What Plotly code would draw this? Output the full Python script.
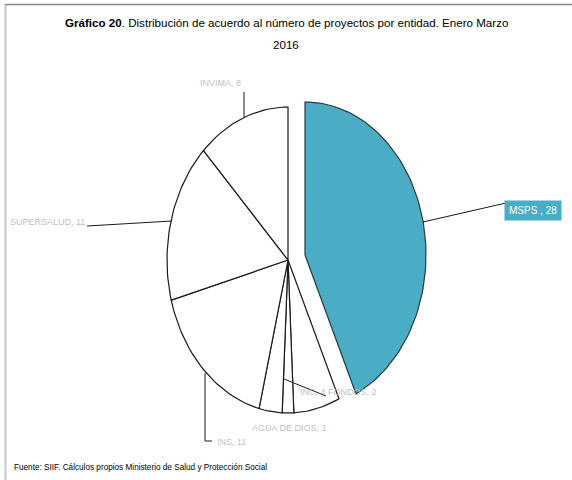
import numpy as np
import plotly.graph_objects as go

# ---- data ----
entities = ["MSPS", "INC", "AGUA DE DIOS", "FONDOS", "INS", "SUPERSALUD", "INVIMA"]
projects = [28, 4, 1, 2, 11, 11, 8]
label_texts = ["MSPS , 28", "INC, 4", "AGUA DE DIOS, 1", "FONDOS, 2", "INS, 11", "SUPERSALUD, 11", "INVIMA, 8"]

title_bold = "Gráfico 20"
title_rest = ". Distribución de acuerdo al número de proyectos por entidad. Enero Marzo"
title_line2 = "2016"
source_text = "Fuente: SIIF. Cálculos propios Ministerio de Salud y Protección Social"

# ---- style / layout ----
W, H = 572, 480
CX, CY = 288, 260
RX, RY = 121, 153
BLUE = "#4BACC6"
LABEL_GRAY = "#BFBFBF"
FONT = "Liberation Sans Narrow, Arial Narrow, Liberation Sans, sans-serif"
pulls = {"MSPS": (17, -5)}

fig = go.Figure()

total = float(sum(projects))
cum = 0.0
for name, v in zip(entities, projects):
    a0 = cum / total * 2 * np.pi
    cum += v
    a1 = cum / total * 2 * np.pi
    n = max(4, int(200 * v / total) + 4)
    th = np.linspace(a0, a1, n)
    dx, dy = pulls.get(name, (0, 0))
    cx, cy = CX + dx, CY + dy
    xs = [cx] + list(cx + RX * np.sin(th)) + [cx]
    ys = [cy] + list(cy - RY * np.cos(th)) + [cy]
    fill = BLUE if name == "MSPS" else "white"
    fig.add_trace(go.Scatter(x=xs, y=ys, mode="lines", fill="toself",
                             fillcolor=fill,
                             line=dict(color="#1a1a1a" if name != "MSPS" else "#2b3a40", width=1.2),
                             hoverinfo="text", text=f"{name}: {v}", showlegend=False))

# leader lines
leaders = [
    ([244, 244], [92, 117]),            # INVIMA
    ([87, 172], [226, 221]),            # SUPERSALUD
    ([423, 506], [222, 203]),           # MSPS
    ([284, 326], [379, 396]),           # INC / FONDOS
    ([205, 205, 212], [373, 441, 441]), # INS
]
for xs, ys in leaders:
    fig.add_trace(go.Scatter(x=xs, y=ys, mode="lines", line=dict(color="#1a1a1a", width=1),
                             hoverinfo="skip", showlegend=False))

lab = dict(zip(entities, label_texts))
annots = []
def add_label(text, x, y, xanchor="left", color=LABEL_GRAY, bg=None, size=9):
    d = dict(x=x, y=y, xref="x", yref="y", text=text, showarrow=False,
             xanchor=xanchor, yanchor="middle", font=dict(family=FONT, size=size, color=color))
    if bg:
        d.update(bgcolor=bg, borderpad=4)
    annots.append(d)

add_label(lab["INVIMA"], 198, 83)
add_label(lab["SUPERSALUD"], 8, 222)
add_label(lab["MSPS"], 533, 210, xanchor="center", color="white", bg=BLUE, size=10)
add_label(lab["INC"] + " " + lab["FONDOS"], 298, 392)
add_label(lab["AGUA DE DIOS"], 250, 428)
add_label(lab["INS"], 215, 442)

# title
annots.append(dict(x=286, y=22, xref="x", yref="y", showarrow=False, xanchor="center", yanchor="middle",
                   text=f"<b>{title_bold}</b>{title_rest}", font=dict(family=FONT, size=11.6, color="black")))
annots.append(dict(x=286, y=44, xref="x", yref="y", showarrow=False, xanchor="center", yanchor="middle",
                   text=title_line2, font=dict(family=FONT, size=11.6, color="black")))
annots.append(dict(x=12, y=467, xref="x", yref="y", showarrow=False, xanchor="left", yanchor="middle",
                   text=source_text, font=dict(family=FONT, size=8.2, color="black")))

fig.update_layout(
    width=W, height=H,
    margin=dict(l=0, r=0, t=0, b=0),
    paper_bgcolor="white", plot_bgcolor="white",
    xaxis=dict(range=[0, W], visible=False, fixedrange=True),
    yaxis=dict(range=[H, 0], visible=False, fixedrange=True),
    annotations=annots,
    shapes=[
        dict(type="line", xref="x", yref="y", x0=5.5, x1=5.5, y0=4, y1=480, layer="above",
             line=dict(color="#C8C8C8", width=2)),
        dict(type="line", xref="paper", yref="paper", x0=0.009, x1=1, y0=0.9905, y1=0.9905, layer="above",
             line=dict(color="#8C8C8C", width=1.5)),
    ],
)

fig.write_html("out.html", config={"displayModeBar": False},
               post_script="document.body.style.margin='0';document.body.style.padding='0';")
